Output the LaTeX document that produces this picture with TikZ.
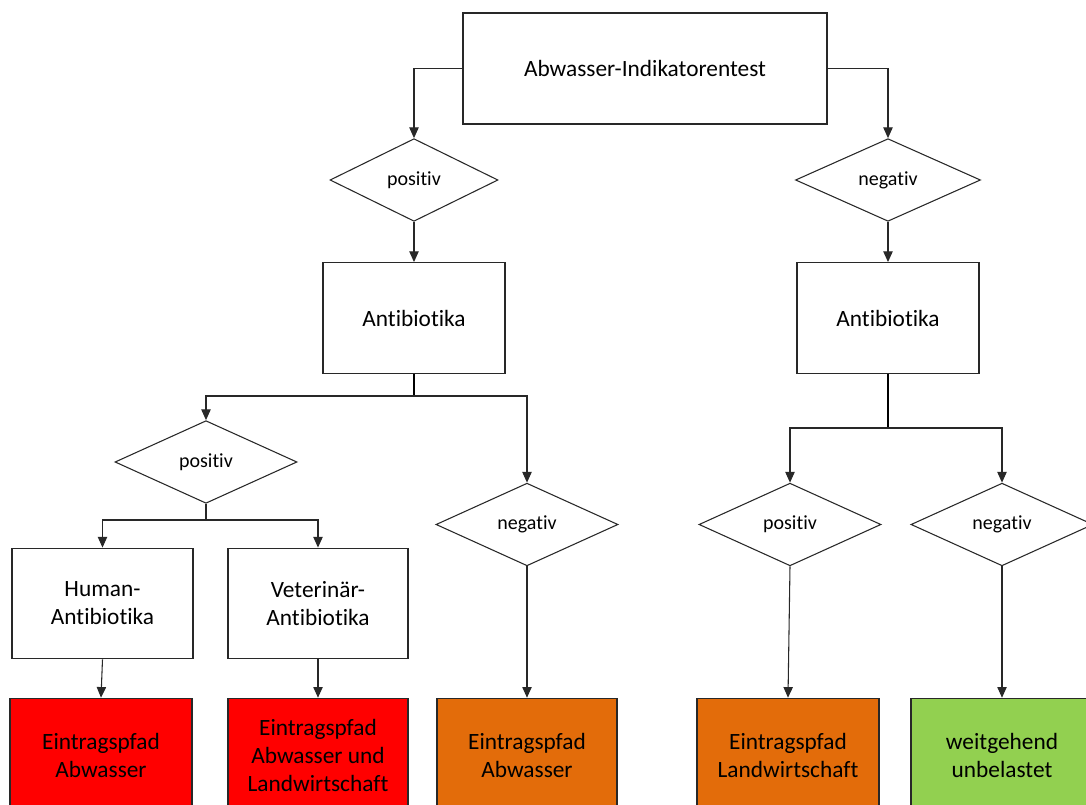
\documentclass[tikz,border=0pt]{standalone}
\usepackage{fontspec}
\setmainfont{Carlito}[RawFeature={-liga;-dlig;-clig;-calt}]
\usetikzlibrary{shapes.geometric,arrows.meta}
\definecolor{boxred}{RGB}{255,0,0}
\definecolor{boxorange}{RGB}{227,108,10}
\definecolor{boxgreen}{RGB}{146,208,80}
\definecolor{linegray}{RGB}{40,40,40}
\tikzset{
  stepbox/.style={draw=linegray, line width=0.9pt, rectangle, inner sep=0pt, align=center,
    font=\fontsize{17.5}{21}\selectfont, minimum width=136.5pt, minimum height=83pt},
  decide/.style={draw=linegray, line width=0.8pt, diamond, inner sep=0pt, align=center,
    font=\fontsize{15}{18}\selectfont, minimum width=136.5pt, minimum height=62pt},
  resultbox/.style={stepbox, minimum height=85pt},
  conn/.style={draw=linegray, line width=0.8pt, -{Triangle[width=7pt,length=8pt]}},
  trunk/.style={draw=black, line width=1.6pt}
}
\begin{document}
\begin{tikzpicture}[x=0.75pt,y=-0.75pt]
\clip (0,0) rectangle (1086,805);
\fill[white] (0,0) rectangle (1086,805);
% top
\node[stepbox, minimum width=273pt, minimum height=83.25pt] (top) at (645,68.5) {Abwasser-Indikatorentest};
\node[decide, minimum width=126pt] (d1) at (414,180) {positiv};
\node[decide, minimum width=138.75pt] (d2) at (888,180) {negativ};
\node[stepbox] (ab1) at (414,318) {Antibiotika};
\node[stepbox] (ab2) at (888,318) {Antibiotika};
\node[decide] (d3) at (206,462) {positiv};
\node[decide] (d4) at (527,524.5) {negativ};
\node[decide] (d5) at (790,524.5) {positiv};
\node[decide] (d6) at (1002,524.5) {negativ};
\node[stepbox, minimum width=135.75pt] (human) at (102.5,603.5) {Human-\\Antibiotika};
\node[stepbox, minimum width=135pt] (vet) at (318,603.5) {Veterinär-\\Antibiotika};
\node[resultbox, fill=boxred, minimum width=136.5pt] (r1) at (101,755) {Eintragspfad\\Abwasser};
\node[resultbox, fill=boxred, minimum width=135pt] (r2) at (318,755) {Eintragspfad\\Abwasser und\\Landwirtschaft};
\node[resultbox, fill=boxorange, minimum width=135pt] (o1) at (527,755) {Eintragspfad\\Abwasser};
\node[resultbox, fill=boxorange, minimum width=136.5pt] (o2) at (788,755) {Eintragspfad\\Landwirtschaft};
\node[resultbox, fill=boxgreen, minimum width=136.5pt] (g1) at (1002,755) {weitgehend\\unbelastet};
% junctions
\coordinate (j1) at (414,396);
\coordinate (j2) at (888,428);
\coordinate (j3) at (206,520);
% connectors
\draw[conn] (top.west) -| (d1.north);
\draw[conn] (top.east) -| (d2.north);
\draw[conn] (d1.south) -- (ab1.north);
\draw[conn] (d2.south) -- (ab2.north);
\draw[trunk] (ab1.south) -- (j1);
\draw[conn] (j1) -| (d3.north);
\draw[conn] (j1) -| (d4.north);
\draw[trunk] (ab2.south) -- (j2);
\draw[conn] (j2) -| (d5.north);
\draw[conn] (j2) -| (d6.north);
\draw[draw=linegray, line width=0.8pt] (d3.south) -- (j3);
\draw[conn] (j3) -| (human.north);
\draw[conn] (j3) -| (vet.north);
\draw[conn] (human.south) -- (r1.north);
\draw[conn] (vet.south) -- (r2.north);
\draw[conn] (d4.south) -- (o1.north);
\draw[conn] (d5.south) -- (o2.north);
\draw[conn] (d6.south) -- (g1.north);
\end{tikzpicture}
\end{document}
